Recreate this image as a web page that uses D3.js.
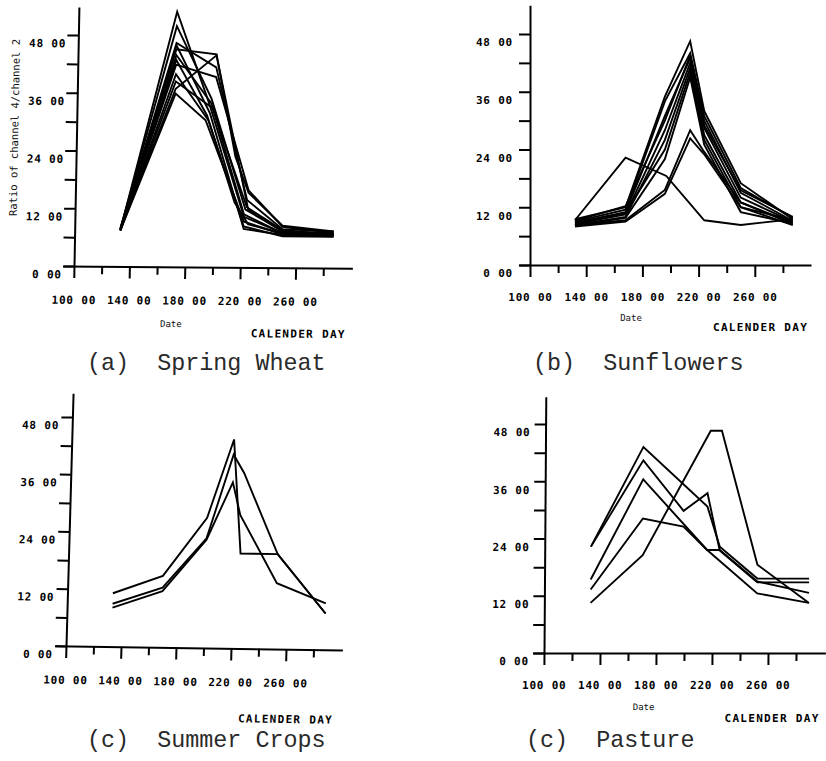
<!DOCTYPE html>
<html>
<head>
<meta charset="utf-8">
<script src="https://cdn.jsdelivr.net/npm/d3@7"></script>
<style>
  body { margin: 0; background: #fff; }
  svg { display: block; background: #fff; }
  .tick-lbl { font-family: "DejaVu Sans Mono", monospace; font-weight: bold; font-size: 11px; letter-spacing: 0.8px; fill: #000; }
  .axis-name { font-family: "DejaVu Sans Mono", monospace; font-weight: bold; font-size: 11px; letter-spacing: 1.3px; fill: #000; }
  .small-lbl { font-family: "DejaVu Sans Mono", monospace; font-size: 9px; fill: #111; }
  .y-title { font-family: "DejaVu Sans Mono", monospace; font-size: 10.5px; fill: #111; }
  .panel-title { font-family: "Liberation Mono", "Courier New", monospace; font-size: 23.4px; fill: #2a2a2a; }
</style>
</head>
<body>
<svg id="chart" width="826" height="761"></svg>
<script>
// Axis ticks (calendar day on x, channel ratio on y)
const yTicks = [0, 6, 12, 18, 24, 30, 36, 42, 48];
const yLabels = [0, 12, 24, 36, 48];
const xTicks = [100, 120, 140, 160, 180, 200, 220, 240, 260, 280];
const xLabels = [100, 140, 180, 220, 260];

// Each field is a list of [calendar day, ratio of channel 4 / channel 2]
const springWheat = [
  [[133, 7.6], [171, 53.0], [196, 33.5], [222, 10.5], [250, 7.2], [287, 7.0]],
  [[133, 7.8], [171, 50.0], [197, 35.0], [223, 12.0], [250, 7.6], [287, 7.2]],
  [[133, 8.0], [171, 46.5], [200, 41.5], [224, 14.0], [250, 8.0], [287, 7.6]],
  [[133, 7.5], [171, 46.0], [196, 32.0], [222, 8.0], [250, 6.8], [287, 6.6]],
  [[133, 7.7], [171, 45.2], [200, 44.2], [215, 23.0], [225, 15.5], [250, 8.7], [287, 7.6]],
  [[133, 7.6], [171, 44.0], [197, 34.0], [222, 11.0], [250, 7.2], [287, 7.0]],
  [[133, 7.4], [171, 43.0], [194, 31.5], [215, 13.5], [225, 9.0], [250, 7.0], [287, 6.8]],
  [[133, 7.6], [171, 42.0], [200, 39.5], [225, 16.0], [250, 8.5], [287, 7.3]],
  [[133, 7.5], [171, 40.0], [195, 30.5], [222, 8.5], [250, 6.5], [287, 6.5]],
  [[133, 7.6], [171, 38.5], [198, 33.0], [224, 12.5], [250, 7.8], [287, 7.0]],
  [[133, 7.5], [171, 37.0], [200, 44.0], [218, 21.0], [225, 12.0], [250, 7.5], [287, 7.0]],
  [[133, 7.5], [171, 36.0], [193, 30.5], [222, 9.5], [250, 7.0], [287, 6.8]]
];

const sunflowers = [
  [[132, 9.3], [168, 22.3], [197, 18.5], [224, 9.3], [250, 8.3], [280, 9.3], [287, 8.5]],
  [[132, 8.2], [168, 9.3], [196, 15.6], [214, 28.0], [224, 23.5], [250, 13.0], [287, 8.5]],
  [[132, 8.0], [168, 9.0], [196, 14.8], [214, 26.3], [224, 23.0], [250, 12.0], [287, 8.3]],
  [[132, 9.5], [168, 12.0], [196, 35.0], [214, 46.5], [224, 32.0], [250, 17.0], [287, 9.5]],
  [[132, 9.0], [168, 11.5], [196, 34.0], [214, 44.0], [224, 31.0], [250, 16.0], [287, 9.8]],
  [[132, 8.8], [168, 11.0], [196, 31.0], [214, 43.0], [224, 30.0], [250, 15.0], [287, 9.2]],
  [[132, 8.5], [168, 10.5], [196, 28.0], [214, 42.0], [224, 28.5], [250, 14.0], [287, 9.0]],
  [[132, 8.3], [168, 10.0], [196, 26.0], [214, 41.0], [224, 27.0], [250, 13.0], [287, 8.8]],
  [[132, 8.7], [168, 10.8], [196, 24.0], [214, 40.0], [224, 26.0], [250, 12.0], [287, 9.3]],
  [[132, 8.2], [168, 9.8], [196, 22.0], [214, 39.0], [224, 25.0], [250, 11.0], [287, 8.6]],
  [[132, 9.2], [168, 12.2], [196, 30.0], [214, 43.5], [224, 29.0], [250, 15.5], [287, 10.0]]
];

const summerCrops = [
  [[133, 11.2], [169, 15.0], [200, 27.3], [218, 43.8], [225, 19.9], [252, 19.9], [288, 7.6]],
  [[133, 9.0], [169, 12.5], [200, 23.0], [218, 40.6], [226, 36.8], [252, 19.9], [288, 7.6]],
  [[133, 8.2], [169, 11.8], [200, 22.7], [218, 34.8], [224, 28.0], [252, 13.8], [288, 9.7]]
];

const pasture = [
  [[133, 22.3], [170, 43.2], [216, 30.7], [225, 22.3], [252, 15.6], [289, 15.6]],
  [[133, 22.3], [170, 40.4], [199, 29.8], [216, 33.5], [225, 21.5], [252, 14.8], [289, 14.8]],
  [[133, 15.4], [170, 36.4], [216, 21.6], [225, 21.6], [252, 15.0], [289, 12.6]],
  [[133, 13.3], [170, 28.2], [199, 26.5], [216, 21.6], [252, 12.5], [289, 10.5]],
  [[133, 10.5], [170, 20.5], [218, 46.6], [226, 46.6], [252, 18.5], [289, 10.5]]
];

// Panel placement: origin (day 100, ratio 0), pixel sizes, slight plotter skew
const panels = [
  { series: springWheat, title: "(a)  Spring Wheat", x0: 74, dayPx: 1.385, y0: 266, unitPx: 4.8125,
    yTop: 53.8, xEnd: 301, sx: -0.019, sy: 0.008, yLblGap: 12, xLblY: 34,
    titleX: 87, titleY: 362, dateLbl: [172, 323], calLbl: [252, 332], yTitle: true },
  { series: sunflowers, title: "(b)  Sunflowers", x0: 530, dayPx: 1.405, y0: 265, unitPx: 4.8125,
    yTop: 54, xEnd: 300, sx: 0, sy: 0, yLblGap: 17, xLblY: 32,
    titleX: 533, titleY: 362, dateLbl: [631, 318], calLbl: [713, 327], yTitle: false },
  { series: summerCrops, title: "(c)  Summer Crops", x0: 66, dayPx: 1.375, y0: 646, unitPx: 4.77,
    yTop: 53, xEnd: 301, sx: -0.028, sy: 0.0145, yLblGap: 13, xLblY: 34,
    titleX: 87, titleY: 739, dateLbl: null, calLbl: [240, 716], yTitle: false },
  { series: pasture, title: "(c)  Pasture", x0: 544, dayPx: 1.4, y0: 653, unitPx: 4.77,
    yTop: 53.7, xEnd: 301, sx: -0.007, sy: 0, yLblGap: 15, xLblY: 32,
    titleX: 526, titleY: 739, dateLbl: [644, 707], calLbl: [725, 718], yTitle: false }
];

const svg = d3.select("#chart");

panels.forEach(p => {
  const x = d3.scaleLinear().domain([100, 300]).range([p.x0, p.x0 + 200 * p.dayPx]);
  const y = d3.scaleLinear().domain([0, 48]).range([p.y0, p.y0 - 48 * p.unitPx]);

  const g = svg.append("g")
    .attr("transform", `matrix(1,${p.sy},${p.sx},1,${-p.sx * p.y0},${-p.sy * p.x0})`);

  // x axis: starts a little left of the y axis
  const xAxisScale = d3.scaleLinear().domain([92, p.xEnd]).range([x(92), x(p.xEnd)]);
  const xAxis = g.append("g")
    .attr("transform", `translate(0,${y(0)})`)
    .call(d3.axisBottom(xAxisScale)
      .tickValues(xTicks)
      .tickSize(12)
      .tickSizeOuter(0)
      .tickFormat(d => xLabels.includes(d) ? `${d} 00` : ""));
  xAxis.select(".domain").attr("stroke", "#000").attr("stroke-width", 2);
  xAxis.selectAll(".tick line")
    .attr("stroke", "#000").attr("stroke-width", 2)
    .attr("y2", d => xLabels.includes(d) ? 12 : 8);
  xAxis.selectAll(".tick text")
    .attr("class", "tick-lbl")
    .attr("y", p.xLblY).attr("dy", "0.35em");

  // y axis
  const yAxisScale = d3.scaleLinear().domain([0, p.yTop]).range([y(0), y(p.yTop)]);
  const yAxis = g.append("g")
    .attr("transform", `translate(${x(100)},0)`)
    .call(d3.axisLeft(yAxisScale)
      .tickValues(yTicks)
      .tickSize(11)
      .tickSizeOuter(0)
      .tickFormat(d => yLabels.includes(d) ? `${d} 00` : ""));
  yAxis.select(".domain").attr("stroke", "#000").attr("stroke-width", 2);
  yAxis.selectAll(".tick line").attr("stroke", "#000").attr("stroke-width", 2);
  yAxis.selectAll(".tick text")
    .attr("class", "tick-lbl")
    .attr("x", -p.yLblGap).attr("y", 8).attr("dy", "0.35em");

  // field profiles
  const line = d3.line().x(d => x(d[0])).y(d => y(d[1]));
  g.append("g").selectAll("path")
    .data(p.series)
    .join("path")
    .attr("d", line)
    .attr("fill", "none")
    .attr("stroke", "#000")
    .attr("stroke-width", 1.9)
    .attr("stroke-linejoin", "miter");

  if (p.dateLbl) {
    g.append("text").attr("class", "small-lbl")
      .attr("x", p.dateLbl[0]).attr("y", p.dateLbl[1]).attr("dy", "0.35em")
      .attr("text-anchor", "middle").text("Date");
  }
  g.append("text").attr("class", "axis-name")
    .attr("x", p.calLbl[0]).attr("y", p.calLbl[1]).attr("dy", "0.35em")
    .text("CALENDER DAY");

  if (p.yTitle) {
    g.append("text").attr("class", "y-title")
      .attr("transform", `translate(12,128) rotate(-90)`)
      .attr("text-anchor", "middle").attr("dy", "0.35em")
      .text("Ratio of channel 4/channel 2");
  }

  svg.append("text").attr("class", "panel-title")
    .attr("x", p.titleX).attr("y", p.titleY).attr("dy", "0.35em")
    .attr("xml:space", "preserve").style("white-space", "pre")
    .text(p.title);
});
</script>
</body>
</html>
